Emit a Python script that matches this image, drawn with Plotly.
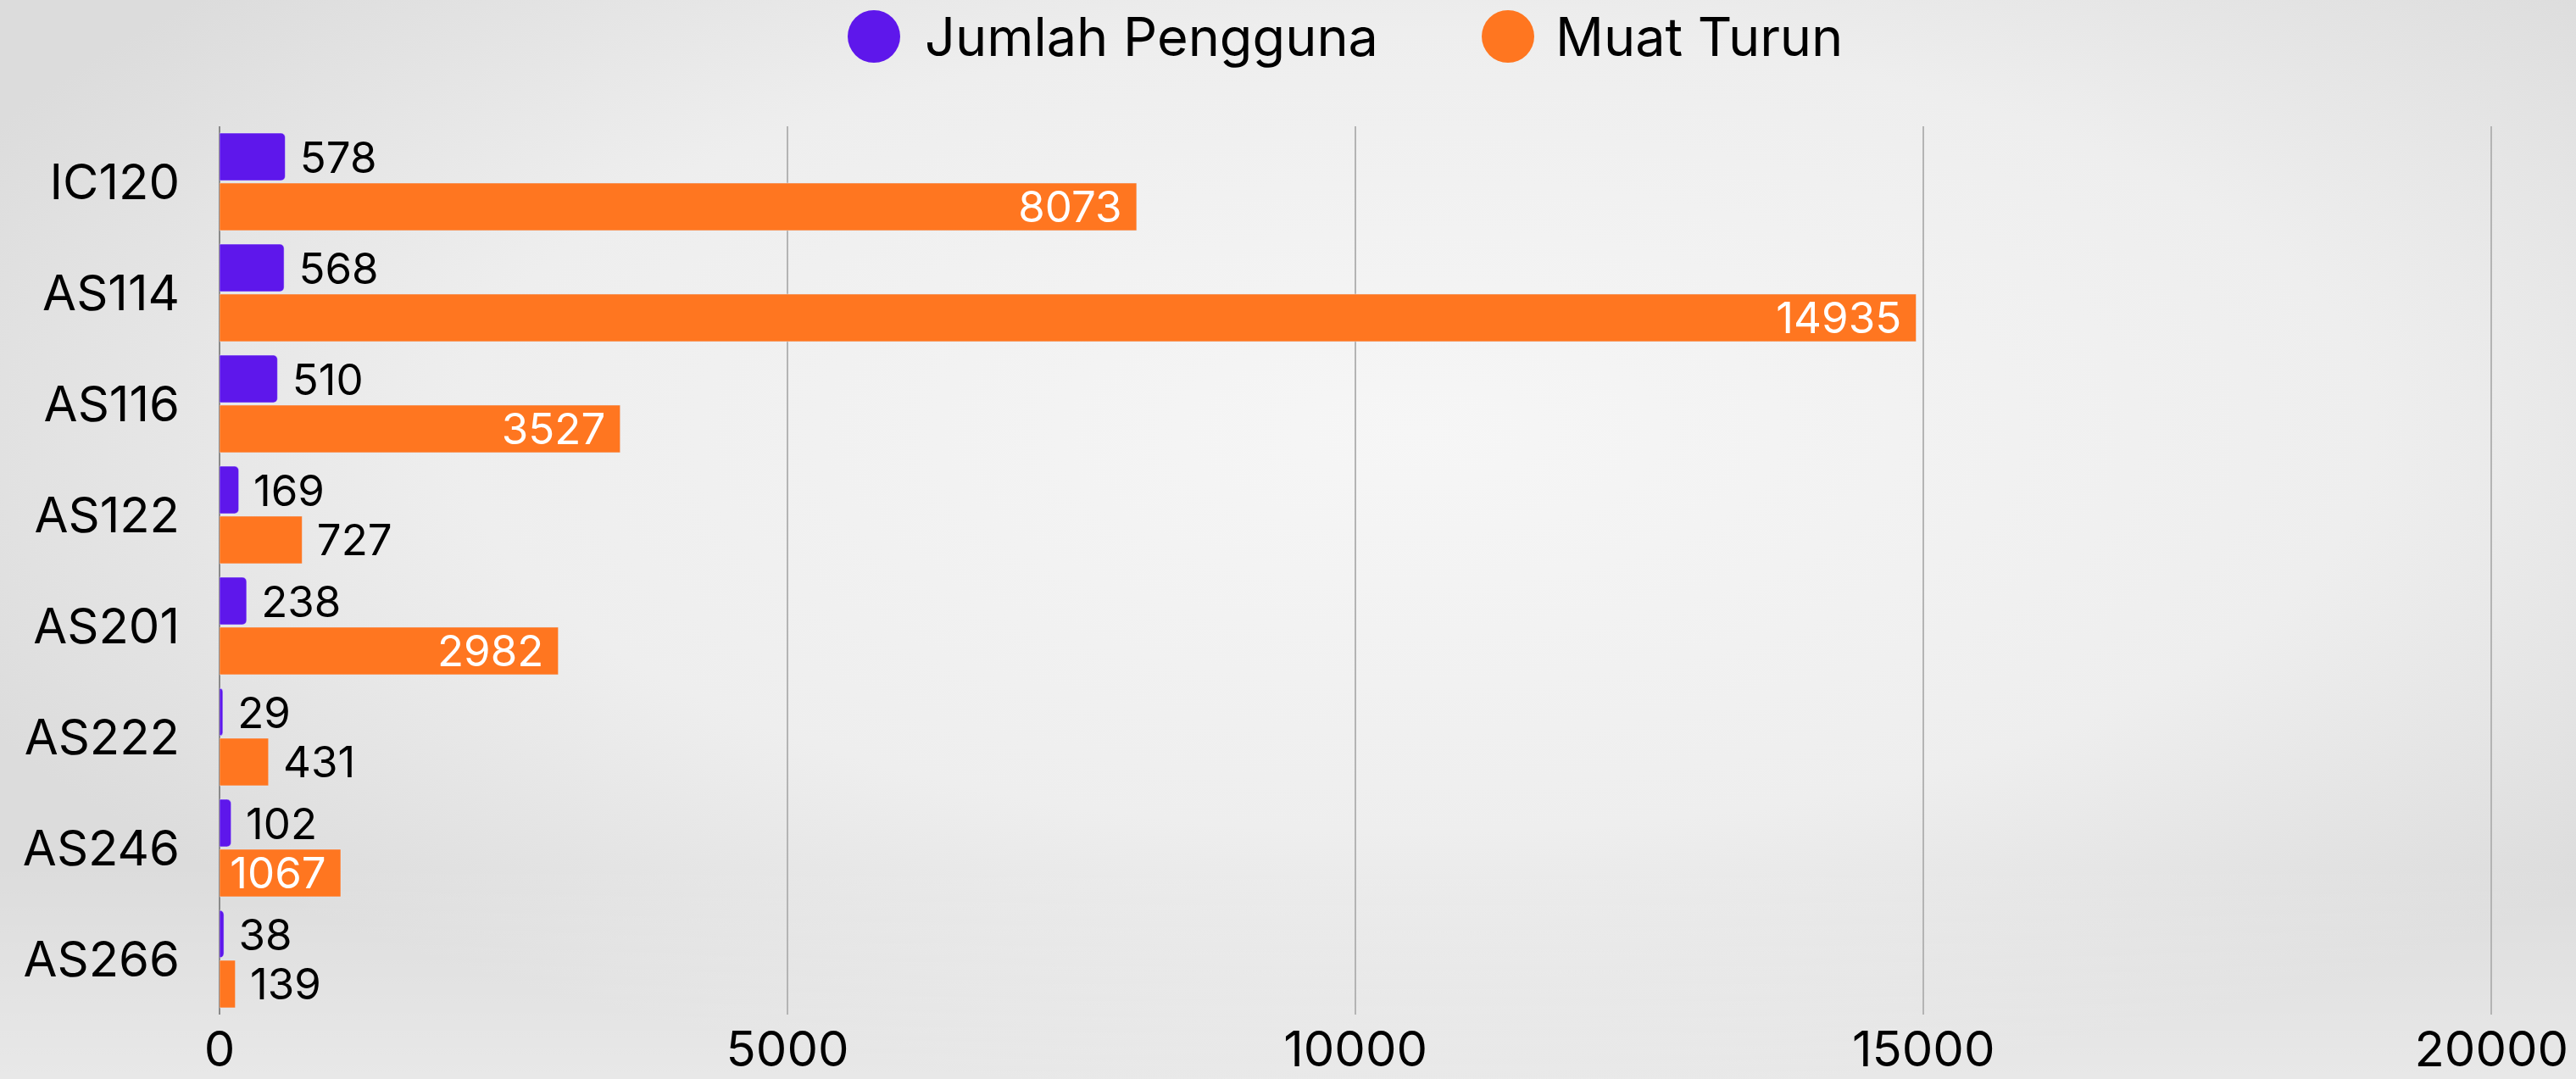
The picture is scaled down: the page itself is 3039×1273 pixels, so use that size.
import base64

import plotly.graph_objects as go

# data
courses = ["IC120", "AS114", "AS116", "AS122", "AS201", "AS222", "AS246", "AS266"]
users = [578, 568, 510, 169, 238, 29, 102, 38]
downloads = [8073, 14935, 3527, 727, 2982, 431, 1067, 139]
series_names = ["Jumlah Pengguna", "Muat Turun"]
x_ticks = [0, 5000, 10000, 15000, 20000]

PURPLE = "#5e17eb"
ORANGE = "#ff7620"
FONT = "Inter"
LABEL_SIZE = 51

W, H = 3039, 1273
M_L, M_R, M_T, M_B = 259, 97, 149, 76
PLOT_W = W - M_L - M_R
PLOT_H = H - M_T - M_B


def paper_x(px):
    return (px - M_L) / PLOT_W


def paper_y(py):
    return (H - M_B - py) / PLOT_H


svg = (
    "<svg xmlns='http://www.w3.org/2000/svg' width='3039' height='1273'>"
    "<defs><radialGradient id='g' cx='0.55' cy='0.4' r='0.62'>"
    "<stop offset='0' stop-color='#f6f6f6'/>"
    "<stop offset='0.6' stop-color='#eeeeee'/>"
    "<stop offset='1' stop-color='#dcdcdc'/></radialGradient>"
    "<linearGradient id='b' x1='0' y1='0' x2='0' y2='1'>"
    "<stop offset='0.8' stop-color='#ffffff' stop-opacity='0'/>"
    "<stop offset='1' stop-color='#ffffff' stop-opacity='0.35'/></linearGradient></defs>"
    "<rect width='100%' height='100%' fill='url(#g)'/>"
    "<rect width='100%' height='100%' fill='url(#b)'/></svg>"
)
bg_src = "data:image/svg+xml;base64," + base64.b64encode(svg.encode()).decode()

fig = go.Figure()
fig.add_trace(
    go.Bar(
        y=courses,
        x=users,
        orientation="h",
        name=series_names[0],
        marker={"color": PURPLE, "cornerradius": 5},
        text=[f" {v}" for v in users],
        textposition="outside",
        textfont={"size": LABEL_SIZE, "family": FONT},
        outsidetextfont={"color": "#000000", "size": LABEL_SIZE, "family": FONT},
        cliponaxis=False,
        constraintext="none",
        showlegend=False,
    )
)
fig.add_trace(
    go.Bar(
        y=courses,
        x=downloads,
        orientation="h",
        name=series_names[1],
        marker={"color": ORANGE},
        text=[f"{v} " if v >= 1000 else f" {v}" for v in downloads],
        textposition=["inside" if v >= 1000 else "outside" for v in downloads],
        insidetextanchor="end",
        textfont={"size": LABEL_SIZE, "family": FONT},
        insidetextfont={"color": "#ffffff", "size": LABEL_SIZE, "family": FONT},
        outsidetextfont={"color": "#000000", "size": LABEL_SIZE, "family": FONT},
        cliponaxis=False,
        constraintext="none",
        showlegend=False,
    )
)

# legend drawn by hand so the circles can be as large as in the reference
legend_items = [
    (series_names[0], PURPLE, 1031, 1089),
    (series_names[1], ORANGE, 1779, 1833),
]
shapes = []
annotations = []
for name, color, cx, tx in legend_items:
    shapes.append(
        dict(
            type="circle",
            xref="paper",
            yref="paper",
            xsizemode="pixel",
            ysizemode="pixel",
            xanchor=paper_x(cx),
            yanchor=paper_y(43),
            x0=-31,
            x1=31,
            y0=-31,
            y1=31,
            fillcolor=color,
            line={"width": 0},
        )
    )
    annotations.append(
        dict(
            text=name,
            xref="paper",
            yref="paper",
            x=paper_x(tx),
            y=paper_y(43),
            xanchor="left",
            yanchor="middle",
            showarrow=False,
            font={"size": 63, "color": "#000000", "family": FONT},
        )
    )

fig.update_layout(
    width=W,
    height=H,
    margin={"l": M_L, "r": M_R, "t": M_T, "b": M_B, "autoexpand": False},
    paper_bgcolor="#e6e6e6",
    plot_bgcolor="rgba(0,0,0,0)",
    barmode="group",
    bargap=0.1,
    bargroupgap=0.05,
    font={"family": FONT, "color": "#000000"},
    shapes=shapes,
    annotations=annotations,
    images=[
        dict(
            source=bg_src,
            xref="paper",
            yref="paper",
            x=paper_x(0),
            y=paper_y(0),
            sizex=W / PLOT_W,
            sizey=H / PLOT_H,
            xanchor="left",
            yanchor="top",
            sizing="stretch",
            layer="below",
        )
    ],
    showlegend=False,
)
fig.update_xaxes(
    range=[0, 20020],
    tickvals=x_ticks,
    ticktext=[str(t) for t in x_ticks],
    showgrid=True,
    gridcolor="#b4b4b4",
    gridwidth=1.5,
    zeroline=True,
    zerolinecolor="#8a8a8a",
    zerolinewidth=1.5,
    showline=False,
    tickfont={"size": 58, "color": "#000000", "family": FONT},
    ticklabelstandoff=2,
    automargin=False,
)
fig.update_yaxes(
    autorange="reversed",
    showgrid=False,
    showline=False,
    tickfont={"size": 58, "color": "#000000", "family": FONT},
    ticklabelstandoff=46,
    automargin=False,
)

fig.write_html(
    "out.html",
    config={"displayModeBar": False},
    post_script="document.body.style.margin='0';document.body.style.overflow='hidden';",
)
